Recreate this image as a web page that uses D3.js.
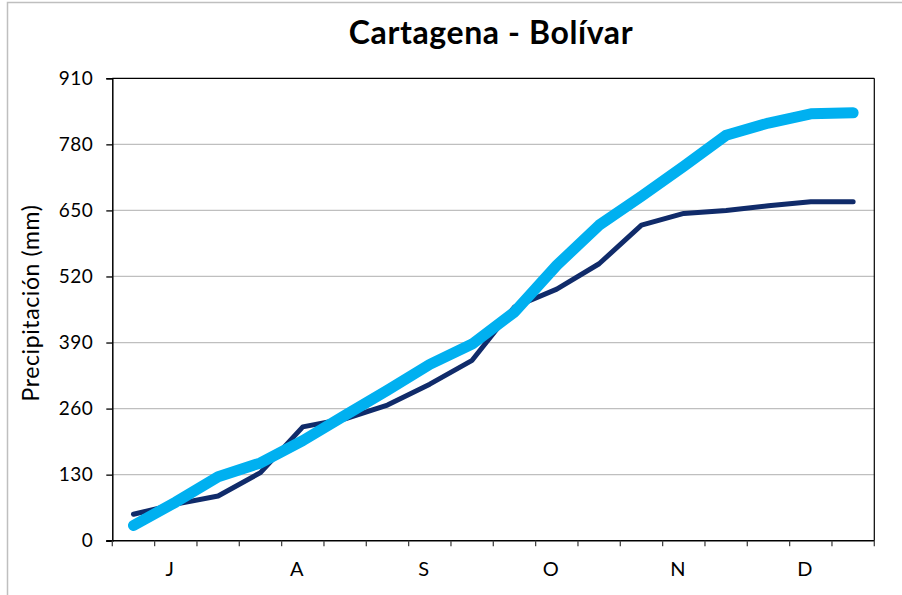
<!DOCTYPE html>
<html>
<head>
<meta charset="utf-8">
<script src="https://cdn.jsdelivr.net/npm/d3@7"></script>
<style>
  html, body { margin: 0; padding: 0; background: #fff; }
  svg { display: block; }
</style>
</head>
<body>
<svg id="chart" width="902" height="595"></svg>
<script>
// ---- data ----
const dekads = d3.range(18);                       // 18 dekads, Jul–Dec
const monthLabels = ["J", "A", "S", "O", "N", "D"];
const yTicks = [0, 130, 260, 390, 520, 650, 780, 910];
const seriesDark = [52, 72, 88, 134, 224, 240, 267, 308, 355, 460, 495, 545, 621, 644, 650, 659, 667, 667];
const seriesLight = [30, 76, 126, 153, 197, 247, 296, 347, 387, 450, 542, 621, 678, 737, 798, 822, 840, 842];

const title = "Cartagena - Bolívar";
const yTitle = "Precipitación (mm)";

// ---- layout ----
const svg = d3.select("#chart");
const L = 112.3, R = 874.3, T = 78.3, B = 540.7;

// outer chart border (gray)
svg.append("rect")
  .attr("x", 7.5).attr("y", 2.5)
  .attr("width", 902).attr("height", 600)
  .attr("fill", "none").attr("stroke", "#bfbfbf").attr("stroke-width", 1.5);

const x = d3.scaleBand().domain(dekads).range([L, R]).padding(0);
const y = d3.scaleLinear().domain([0, 910]).range([B, T]);

// gridlines
svg.append("g")
  .selectAll("line")
  .data(yTicks.filter(v => v > 0 && v < 910))
  .join("line")
  .attr("x1", L).attr("x2", R)
  .attr("y1", d => y(d)).attr("y2", d => y(d))
  .attr("stroke", "#bfbfbf").attr("stroke-width", 1.2);

// plot area border top/right
svg.append("line").attr("x1", L).attr("x2", R).attr("y1", T).attr("y2", T)
  .attr("stroke", "#000").attr("stroke-width", 1.2);
svg.append("line").attr("x1", R).attr("x2", R).attr("y1", T).attr("y2", B)
  .attr("stroke", "#000").attr("stroke-width", 1.2);

// y axis
const yAxis = d3.axisLeft(y).tickValues(yTicks).tickSize(6).tickPadding(13)
  .tickFormat(d3.format("d"));
const gy = svg.append("g").attr("transform", `translate(${L},0)`).call(yAxis);
gy.select(".domain").attr("stroke", "#000").attr("stroke-width", 1.5);
gy.selectAll(".tick line").attr("stroke", "#000").attr("stroke-width", 1.3);
gy.selectAll(".tick text")
  .attr("font-family", "Lato, 'Noto Sans', sans-serif")
  .attr("font-size", 19).attr("letter-spacing", 0.5).attr("fill", "#000");

// x axis: ticks at dekad boundaries
const boundaries = d3.range(19);
const xb = d3.scaleLinear().domain([0, 18]).range([L, R]);
const gx = svg.append("g");
gx.append("line").attr("x1", L - 6).attr("x2", R).attr("y1", B).attr("y2", B)
  .attr("stroke", "#000").attr("stroke-width", 1.5);
gx.selectAll("line.tk").data(boundaries).join("line").attr("class", "tk")
  .attr("x1", d => xb(d)).attr("x2", d => xb(d))
  .attr("y1", B).attr("y2", B + 5.5)
  .attr("stroke", "#444").attr("stroke-width", 1.3);
gx.selectAll("text").data(monthLabels).join("text")
  .attr("x", (d, i) => x(i * 3 + 1) + x.bandwidth() / 2 - 6)
  .attr("y", B + 35)
  .attr("text-anchor", "middle")
  .attr("font-family", "Lato, 'Noto Sans', sans-serif")
  .attr("font-size", 20).attr("fill", "#000")
  .text(d => d);

// lines
const line = d3.line()
  .x((d, i) => x(i) + x.bandwidth() / 2)
  .y(d => y(d));

svg.append("path").datum(seriesDark)
  .attr("d", line).attr("fill", "none")
  .attr("stroke", "#102b6a").attr("stroke-width", 5)
  .attr("stroke-linejoin", "round").attr("stroke-linecap", "round");

svg.append("path").datum(seriesLight)
  .attr("d", line).attr("fill", "none")
  .attr("stroke", "#00b0f0").attr("stroke-width", 11)
  .attr("stroke-linejoin", "round").attr("stroke-linecap", "round");

// title
svg.append("text")
  .attr("x", 491).attr("y", 44)
  .attr("text-anchor", "middle")
  .attr("font-family", "Lato, 'Noto Sans', sans-serif")
  .attr("font-weight", "bold").attr("font-size", 32).attr("letter-spacing", 0.6)
  .attr("fill", "#000")
  .text(title);

// y title
svg.append("text")
  .attr("transform", "translate(39,303) rotate(-90)")
  .attr("text-anchor", "middle")
  .attr("font-family", "Lato, 'Noto Sans', sans-serif")
  .attr("font-size", 23).attr("letter-spacing", 0.6).attr("fill", "#000")
  .text(yTitle);
</script>
</body>
</html>
